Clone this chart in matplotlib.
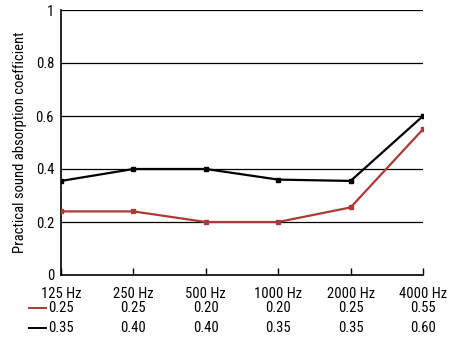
import matplotlib
matplotlib.use("Agg")
import matplotlib.pyplot as plt
from matplotlib.lines import Line2D
from matplotlib.transforms import blended_transform_factory

# Data
bands = ["125 Hz", "250 Hz", "500 Hz", "1000 Hz", "2000 Hz", "4000 Hz"]
red_plot = [0.24, 0.24, 0.20, 0.20, 0.255, 0.55]
black_plot = [0.355, 0.40, 0.40, 0.36, 0.355, 0.60]
red_labels = ["0.25", "0.25", "0.20", "0.20", "0.25", "0.55"]
black_labels = ["0.35", "0.40", "0.40", "0.35", "0.35", "0.60"]
yticks = [0, 0.2, 0.4, 0.6, 0.8, 1.0]

RED = "#ab3a3a"
W, H = 461, 338
FS = 10.5

plt.rcParams['font.family'] = ['Roboto Condensed', 'DejaVu Sans Condensed', 'Roboto', 'DejaVu Sans']
fig = plt.figure(figsize=(W / 100, H / 100), dpi=100)
ax = fig.add_axes([61 / W, 1 - 275 / H, (423 - 61) / W, (275 - 10) / H])

x = list(range(len(bands)))
ax.plot(x, black_plot, color="black", lw=1.6, marker="s", ms=2.5, zorder=3)
ax.plot(x, red_plot, color=RED, lw=1.6, marker="s", ms=2.5, zorder=3)

for y in yticks[1:]:
    ax.axhline(y, color="black", lw=0.9, zorder=1)

ax.set_xlim(0, len(bands) - 1)
ax.set_ylim(0, 1)
ax.set_yticks(yticks)
ax.set_yticklabels(["0", "0.2", "0.4", "0.6", "0.8", "1"], fontsize=FS)
ax.tick_params(axis="y", length=0, pad=5)
ax.set_xticks(x)
ax.set_xticklabels(bands, fontsize=FS)
ax.tick_params(axis="x", direction="in", length=5, width=1, pad=9)
for s in ["top", "right"]:
    ax.spines[s].set_visible(False)
for s in ["left", "bottom"]:
    ax.spines[s].set_linewidth(1.2)
ax.set_ylabel("Practical sound absorption coefficient", fontsize=FS, labelpad=6)

# table rows under the axis
tr = blended_transform_factory(ax.transData, fig.transFigure)
for row, (labels, col) in enumerate([(red_labels, RED), (black_labels, "black")]):
    yf = 1 - (308 + row * 20) / H
    for xi, lab in zip(x, labels):
        ax.text(xi, yf, lab, transform=tr, ha="center", va="center", fontsize=FS, clip_on=False)
    fig.add_artist(Line2D([29 / W, 46 / W], [yf, yf], color=col, lw=1.4, transform=fig.transFigure))

fig.savefig("out.png", dpi=100)
